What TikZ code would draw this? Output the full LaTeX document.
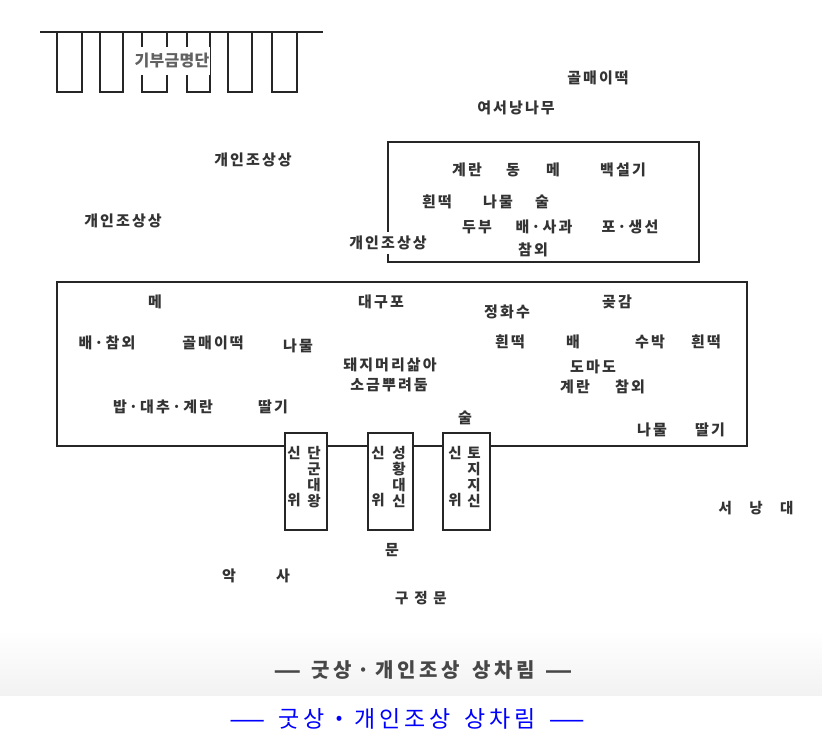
\documentclass[tikz,border=0pt]{standalone}
\usepackage{fontspec}
\newfontfamily\kr{Noto Sans CJK KR}
\newfontfamily\dv{DejaVu Sans}
\newcommand\longdash[1]{{\dv\scalebox{#1}[1]{—}}}
\begin{document}
\begin{tikzpicture}[x=1pt,y=-1pt,
  kt/.style={font=\kr\bfseries\addfontfeature{LetterSpace=14}\fontsize{15}{16}\selectfont, text=black!80, inner sep=0.5pt},
  kv/.style={font=\kr\bfseries\fontsize{14.5}{15}\selectfont, text=black!80, inner sep=0.5pt},
  ln/.style={line width=2.4pt, draw=black!85},
  sbox/.style={ln, fill=white},
  capgray/.style={font=\kr\bfseries\addfontfeature{LetterSpace=18}\fontsize{20}{21}\selectfont, text=black!72, inner sep=0pt},
  capblue/.style={font=\kr\addfontfeature{LetterSpace=16}\fontsize{23}{25}\selectfont, text=blue, inner sep=0pt}]
\useasboundingbox (0,0) rectangle (822,738);
\fill[white] (0,0) rectangle (822,738);
\shade[top color=white, bottom color=black!5] (0,630) rectangle (822,695);

% banner
\draw[ln] (40,32) -- (323,32);
\foreach \a/\b in {57/82,100/123,142/167,187/210,228/252,272/297}
  \draw[ln] (\a,32) -- (\a,92) -- (\b,92) -- (\b,32);
\node[kt, font=\kr\bfseries\addfontfeature{LetterSpace=2}\fontsize{16}{16}\selectfont, text=black!62, fill=white, inner xsep=0.5pt, inner ysep=6pt] (dn) at (172,61) {기부금명단};

% top texts
\node[kt] (t1) at (598,78) {골매이떡};
\node[kt] (t2) at (516,108) {여서낭나무};
\node[kt] (t3) at (253,160) {개인조상상};
\node[kt] (t4) at (123,221) {개인조상상};

% middle box
\draw[ln] (388,142) rectangle (699,262);
\node[kt] (m1) at (467,170) {계란};
\node[kt] (m2) at (513,170) {동};
\node[kt] (m3) at (553,170) {메};
\node[kt] (m4) at (623,170) {백설기};
\node[kt] (m5) at (437,202) {흰떡};
\node[kt] (m6) at (498,202) {나물};
\node[kt] (m7) at (542,202) {술};
\node[kt] (m8) at (477,227) {두부};
\node[kt] (m9) at (544,227) {배·사과};
\node[kt] (m10) at (630,227) {포·생선};
\node[kt] (m11) at (533,250) {참외};
\node[kt, fill=white, inner ysep=4pt] (t5) at (388,243) {개인조상상};

% big box
\draw[ln] (57,282) rectangle (747,446);
\node[kt] (b1) at (155,302) {메};
\node[kt] (b2) at (107,343) {배·참외};
\node[kt] (b3) at (213,343) {골매이떡};
\node[kt] (b4) at (298,346) {나물};
\node[kt] (b5) at (163,407) {밥·대추·계란};
\node[kt] (b6) at (273,407) {딸기};
\node[kt] (b7) at (381,302) {대구포};
\node[kt] (b8) at (507,312) {정화수};
\node[kt] (b9) at (617,302) {곶감};
\node[kt] (b10) at (510,342) {흰떡};
\node[kt] (b11) at (573,342) {배};
\node[kt] (b12) at (650,342) {수박};
\node[kt] (b13) at (706,342) {흰떡};
\node[kt] (b14) at (390,365) {돼지머리삶아};
\node[kt] (b15) at (389,385) {소금뿌려둠};
\node[kt] (b16) at (593,367) {도마도};
\node[kt] (b17) at (575,387) {계란};
\node[kt] (b18) at (630,387) {참외};
\node[kt] (b19) at (465,418) {술};
\node[kt] (b20) at (652,430) {나물};
\node[kt] (b21) at (710,430) {딸기};

% small boxes
\draw[sbox] (285,433) rectangle (327,530);
\draw[sbox] (368,433) rectangle (413,530);
\draw[sbox] (443,433) rectangle (490,530);
\node[kv] (s1a) at (294,453) {신};
\node[kv] (s1b) at (294,500) {위};
\node[kv] (s1c) at (314,453) {단};
\node[kv] (s1d) at (314,469) {군};
\node[kv] (s1e) at (314,485) {대};
\node[kv] (s1f) at (314,501) {왕};
\node[kv] (s2a) at (378,453) {신};
\node[kv] (s2b) at (378,500) {위};
\node[kv] (s2c) at (399,453) {성};
\node[kv] (s2d) at (399,469) {황};
\node[kv] (s2e) at (399,485) {대};
\node[kv] (s2f) at (399,501) {신};
\node[kv] (s3a) at (455,453) {신};
\node[kv] (s3b) at (455,500) {위};
\node[kv] (s3c) at (474,453) {토};
\node[kv] (s3d) at (474,469) {지};
\node[kv] (s3e) at (474,485) {지};
\node[kv] (s3f) at (474,501) {신};

% bottom texts
\node[kt] (u1) at (392,550) {문};
\node[kt] (u2) at (229,576) {악};
\node[kt] (u3) at (283,576) {사};
\node[kt, font=\kr\bfseries\addfontfeature{LetterSpace=40}\fontsize{14.5}{15}\selectfont] (u4) at (421,598) {구정문};
\node[kt, font=\kr\bfseries\addfontfeature{LetterSpace=120}\fontsize{14.5}{15}\selectfont] (u5) at (756,508) {서낭대};

% captions
\node[capgray] (c1) at (423,670) {\longdash{1.4}\hspace{10pt}굿상\hspace{6pt}·\hspace{6pt}개인조상\hspace{12pt}상차림\hspace{10pt}\longdash{1.4}};
\node[capblue] (c2) at (407,719) {\longdash{1.6}\hspace{13pt}굿상\hspace{8pt}{\bfseries·}\hspace{8pt}개인조상\hspace{14pt}상차림\hspace{13pt}\longdash{1.6}};
\end{tikzpicture}
\end{document}
